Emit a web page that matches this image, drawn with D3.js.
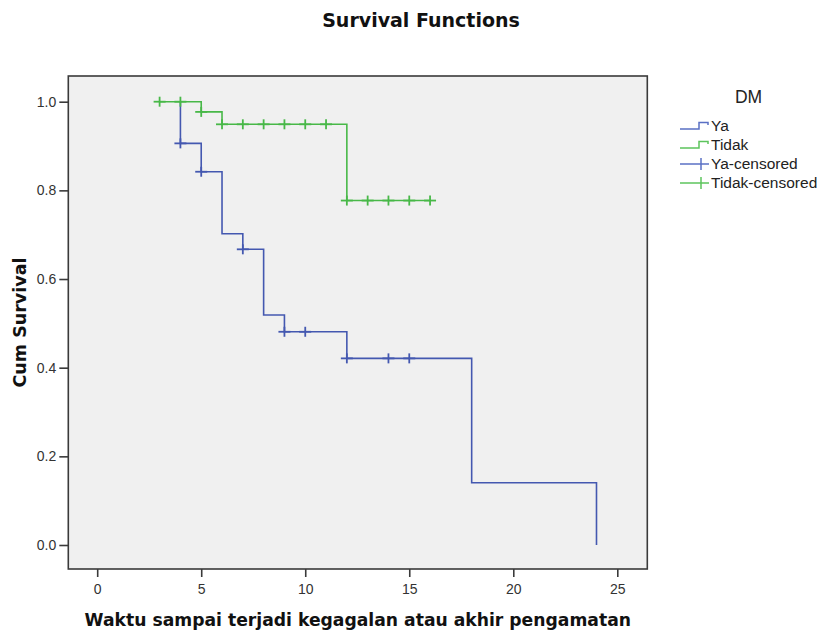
<!DOCTYPE html>
<html>
<head>
<meta charset="utf-8">
<script src="https://cdn.jsdelivr.net/npm/d3@7/dist/d3.min.js"></script>
<style>
  html, body { margin: 0; padding: 0; background: #ffffff; }
  svg { display: block; font-family: "Liberation Sans", Arial, sans-serif; }
</style>
</head>
<body>
<svg id="chart" width="821" height="634"></svg>
<script>
// ---------- data ----------
const groupNames = ["Ya", "Tidak"];
const legendLabels = ["Ya", "Tidak", "Ya-censored", "Tidak-censored"];
const xTicks = [0, 5, 10, 15, 20, 25];
const yTicks = [0.0, 0.2, 0.4, 0.6, 0.8, 1.0];

// Ya group: first time, event times and survival after each event
const yaStart = 4;
const yaTimes = [4, 5, 6, 7, 8, 9, 12, 18, 24];
const yaSurv  = [0.906, 0.842, 0.702, 0.667, 0.519, 0.481, 0.421, 0.1405, 0.0];
const yaEnd = 24;
const yaCensored = [4, 5, 7, 9, 10, 12, 14, 15];

// Tidak group
const tidakStart = 3;
const tidakTimes = [5, 6, 12];
const tidakSurv  = [0.977, 0.949, 0.777];
const tidakEnd = 16;
const tidakCensored = [3, 4, 5, 6, 7, 8, 9, 10, 11, 12, 13, 14, 15, 16];

// ---------- layout ----------
const svg = d3.select("#chart");
const frame = { left: 68.3, right: 647.3, top: 76, bottom: 569 };
const x = d3.scaleLinear().domain([0, 25]).range([97.2, 617.3]);
const y = d3.scaleLinear().domain([0, 1]).range([545, 101.7]);

const blue = "#4458b0";
const green = "#48b848";
const blueLegend = "#5a70c4";
const greenLegend = "#5cc45c";
const titleFont = "'DejaVu Sans', Verdana, sans-serif";
const bodyFont = "'Liberation Sans', Arial, sans-serif";

// title
svg.append("text")
  .attr("x", 421).attr("y", 27)
  .attr("text-anchor", "middle")
  .attr("font-family", titleFont)
  .attr("font-size", 19).attr("font-weight", "bold")
  .attr("fill", "#111")
  .text("Survival Functions");

// plot background / frame
svg.append("rect")
  .attr("x", frame.left).attr("y", frame.top)
  .attr("width", frame.right - frame.left)
  .attr("height", frame.bottom - frame.top)
  .attr("fill", "#f0f0f0")
  .attr("stroke", "#3a3a3a").attr("stroke-width", 1.6);

// axes
const xAxis = d3.axisBottom(x).tickValues(xTicks).tickSize(8).tickPadding(7).tickFormat(d3.format("d"));
const gx = svg.append("g").attr("transform", `translate(0,${frame.bottom})`).call(xAxis);
gx.select(".domain").remove();
gx.selectAll(".tick line").attr("stroke", "#3a3a3a").attr("stroke-width", 1.6);
gx.selectAll(".tick text").attr("font-size", 14).attr("fill", "#333")
  .attr("font-family", bodyFont);

const yAxis = d3.axisLeft(y).tickValues(yTicks).tickSize(9).tickPadding(3).tickFormat(d3.format(".1f"));
const gy = svg.append("g").attr("transform", `translate(${frame.left},0)`).call(yAxis);
gy.select(".domain").remove();
gy.selectAll(".tick line").attr("stroke", "#3a3a3a").attr("stroke-width", 1.6);
gy.selectAll(".tick text").attr("font-size", 14).attr("fill", "#333")
  .attr("font-family", bodyFont);

// axis titles
svg.append("text")
  .attr("x", (frame.left + frame.right) / 2).attr("y", 626)
  .attr("text-anchor", "middle")
  .attr("font-family", titleFont)
  .attr("font-size", 17.2).attr("font-weight", "bold").attr("fill", "#111")
  .text("Waktu sampai terjadi kegagalan atau akhir pengamatan");

svg.append("text")
  .attr("transform", `translate(26,${(frame.top + frame.bottom) / 2}) rotate(-90)`)
  .attr("text-anchor", "middle")
  .attr("font-family", titleFont)
  .attr("font-size", 17.5).attr("font-weight", "bold").attr("fill", "#111")
  .text("Cum Survival");

// ---------- step curves ----------
function stepPoints(start, times, surv, end) {
  const pts = [[start, 1]];
  let s = 1;
  times.forEach((t, i) => {
    pts.push([t, s]);
    s = surv[i];
    pts.push([t, s]);
  });
  pts.push([end, s]);
  return pts;
}
function survAt(t, times, surv) {
  let s = 1;
  times.forEach((tt, i) => { if (tt <= t) s = surv[i]; });
  return s;
}
const line = d3.line().x(d => x(d[0])).y(d => y(d[1]));

const groups = [
  { name: groupNames[0], pts: stepPoints(yaStart, yaTimes, yaSurv, yaEnd), color: blue,
    cens: yaCensored.map(t => [t, survAt(t, yaTimes, yaSurv)]) },
  { name: groupNames[1], pts: stepPoints(tidakStart, tidakTimes, tidakSurv, tidakEnd), color: green,
    cens: tidakCensored.map(t => [t, survAt(t, tidakTimes, tidakSurv)]) }
];

groups.forEach(g => {
  svg.append("path")
    .datum(g.pts)
    .attr("d", line)
    .attr("fill", "none")
    .attr("stroke", g.color)
    .attr("stroke-width", 1.6);
  const cg = svg.append("g");
  g.cens.forEach(c => {
    const cx = x(c[0]), cy = y(c[1]);
    cg.append("line").attr("x1", cx - 6).attr("x2", cx + 6).attr("y1", cy).attr("y2", cy)
      .attr("stroke", g.color).attr("stroke-width", 1.8);
    cg.append("line").attr("x1", cx).attr("x2", cx).attr("y1", cy - 5).attr("y2", cy + 5)
      .attr("stroke", g.color).attr("stroke-width", 1.8);
  });
});

// ---------- legend ----------
svg.append("text")
  .attr("x", 748.5).attr("y", 103)
  .attr("text-anchor", "middle")
  .attr("font-size", 17.5).attr("fill", "#222")
  .text("DM");

const legendRows = [126, 145, 164, 183];
const legendColors = [blueLegend, greenLegend, blueLegend, greenLegend];
legendLabels.forEach((lab, i) => {
  const ly = legendRows[i];
  const c = legendColors[i];
  if (i < 2) {
    svg.append("path")
      .attr("d", `M680,${ly + 3} H699 V${ly - 3.5} H708 V${ly - 1}`)
      .attr("fill", "none").attr("stroke", c).attr("stroke-width", 1.5);
  } else {
    svg.append("line").attr("x1", 680).attr("x2", 709).attr("y1", ly).attr("y2", ly)
      .attr("stroke", c).attr("stroke-width", 1.5);
    svg.append("line").attr("x1", 701).attr("x2", 701).attr("y1", ly - 6).attr("y2", ly + 6)
      .attr("stroke", c).attr("stroke-width", 1.5);
  }
  svg.append("text")
    .attr("x", 711).attr("y", ly + 5)
    .attr("font-size", 15.5).attr("fill", "#222")
    .text(lab);
});
</script>
</body>
</html>
